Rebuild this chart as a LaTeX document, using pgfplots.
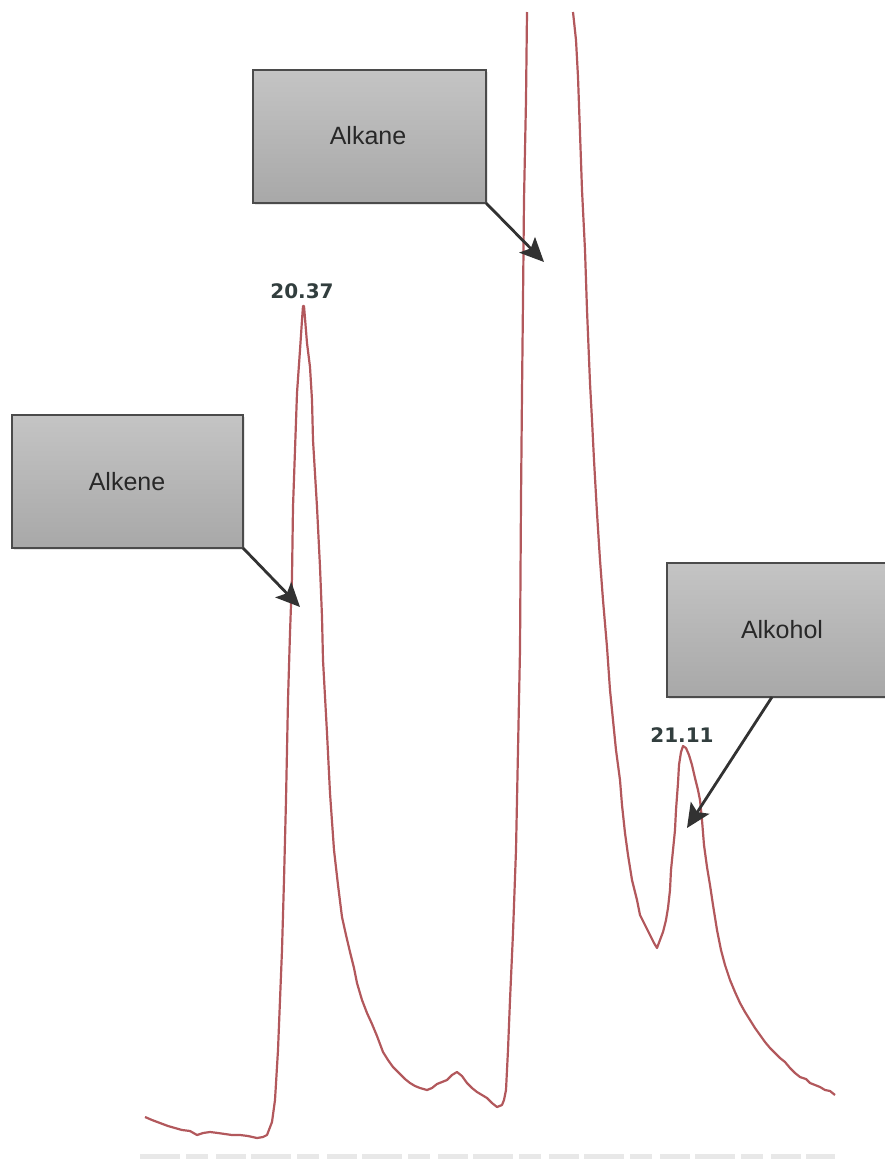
\documentclass[border=0pt]{standalone}
\usepackage{fontspec}
\setmainfont{Liberation Sans}
\newfontfamily\numfont{DejaVu Sans}
\usepackage{pgfplots}
\pgfplotsset{compat=1.18}
\usetikzlibrary{arrows.meta,shadows}
\definecolor{trace}{RGB}{178,88,92}
\definecolor{boxtop}{RGB}{196,196,196}
\definecolor{boxbot}{RGB}{168,168,168}
\definecolor{boxedge}{RGB}{75,75,75}
\definecolor{arrowc}{RGB}{50,50,50}
\definecolor{numc}{RGB}{50,62,62}
\definecolor{txtc}{RGB}{40,40,40}
\begin{document}
\begin{tikzpicture}
\begin{axis}[
  scale only axis, width=885pt, height=1160pt,
  xmin=0, xmax=885, ymin=0, ymax=1160, y dir=reverse,
  axis lines=none, ticks=none, clip=true, unbounded coords=jump,
]
\path (axis cs:0,0) rectangle (axis cs:885,1160);
% faint blurred tick-label row at the bottom
\draw[black!9, line width=5pt, dash pattern=on 40pt off 6pt on 22pt off 8pt on 30pt off 5pt] (axis cs:140,1156) -- (axis cs:835,1156);
\addplot[trace, line width=2.2pt, line join=round] coordinates {
(145,1117) (152,1120) (160,1123) (168,1126) (175,1128) (182,1130) (190,1131) (197,1135) (203,1133) (210,1132) (218,1133) (225,1134) (232,1135) (240,1135) (248,1136) (257,1138) (263,1137) (267,1135)
(272,1122) (275,1100) (278,1050) (280,1000) (282,950) (284,880) (286,800) (287,750) (288,700) (290,633) (292,577) (293,507) (295,450) (297,393) (300,350) (302,320) (303,306)
(304,306) (307,343) (310,367) (312,400) (313,440) (317,507) (320,567) (322,617) (323,660) (327,733) (330,793) (334,850) (338,885) (342,917) (346,935) (350,952) (354,968) (357,983) (362,1000) (367,1013) (372,1024) (377,1036) (383,1052) (388,1060) (393,1067) (400,1074) (405,1079) (410,1083) (415,1086) (420,1088) (427,1090) (432,1088) (437,1084) (442,1082) (447,1080) (452,1075) (457,1072) (462,1076) (467,1083) (472,1088) (477,1092) (482,1095) (487,1098) (492,1103) (497,1107) (502,1105) (504,1100)
(506,1090) (508,1050) (510,1000) (513,933) (516,850) (518,750) (520,650) (521,500) (522,393) (523,300) (524,200) (526,100) (527,12)
(550,nan)
(573,12) (576,40) (578,77) (579,105) (580,133) (582,190) (585,250) (587,310) (590,383) (592,420) (594,460) (597,513) (600,560) (603,600) (607,647) (610,690) (613,720) (616,750) (620,780) (622,805) (625,833) (628,855) (632,880) (637,900) (640,915) (645,925) (650,935) (654,943) (657,948)
(660,940) (663,932) (666,920) (668,908) (670,890) (671,870) (673,850) (675,830) (676,810) (678,783) (679,765) (681,752) (683,746) (686,748) (689,755) (692,765) (695,778) (698,790) (700,800) (702,820) (704,845) (707,867) (710,885) (713,905) (717,930) (721,950) (725,965) (730,980) (735,992) (740,1003) (745,1012) (750,1020) (755,1028) (760,1035) (765,1042) (770,1048) (775,1053) (780,1058) (785,1062) (790,1068) (795,1073) (800,1077) (806,1079) (810,1083) (815,1085) (820,1087) (825,1090) (830,1091) (835,1095)
};
% peak labels
\node[numc, font=\numfont\bfseries\fontsize{20}{24}\selectfont] at (axis cs:302,291) {20.37};
\node[numc, font=\numfont\bfseries\fontsize{20}{24}\selectfont] at (axis cs:682,735) {21.11};
% callout boxes
\fill[top color=boxtop, bottom color=boxbot, drop shadow={opacity=0.2, shadow xshift=2pt, shadow yshift=-2pt}] (axis cs:12,415) rectangle (axis cs:243,548);
\draw[boxedge, line width=1.4pt] (axis cs:12,415) rectangle (axis cs:243,548);
\node[txtc, font=\fontsize{25}{30}\selectfont] at (axis cs:127,482) {Alkene};
\fill[top color=boxtop, bottom color=boxbot, drop shadow={opacity=0.2, shadow xshift=2pt, shadow yshift=-2pt}] (axis cs:253,70) rectangle (axis cs:486,203);
\draw[boxedge, line width=1.4pt] (axis cs:253,70) rectangle (axis cs:486,203);
\node[txtc, font=\fontsize{25}{30}\selectfont] at (axis cs:368,136) {Alkane};
\fill[top color=boxtop, bottom color=boxbot, drop shadow={opacity=0.2, shadow xshift=2pt, shadow yshift=-2pt}] (axis cs:667,563) rectangle (axis cs:885,697);
\draw[boxedge, line width=1.4pt] (axis cs:885,563) -- (axis cs:667,563) -- (axis cs:667,697) -- (axis cs:885,697);
\node[txtc, font=\fontsize{25}{30}\selectfont] at (axis cs:782,630) {Alkohol};
% arrows
\draw[arrowc, line width=2.8pt, -{Stealth[length=24pt,width=22pt,inset=5pt]}] (axis cs:243,548) -- (axis cs:300,607);
\draw[arrowc, line width=2.8pt, -{Stealth[length=24pt,width=22pt,inset=5pt]}] (axis cs:486,203) -- (axis cs:544,262);
\draw[arrowc, line width=2.8pt, -{Stealth[length=24pt,width=22pt,inset=5pt]}] (axis cs:772,697) -- (axis cs:687,828);
\end{axis}
\end{tikzpicture}
\end{document}
